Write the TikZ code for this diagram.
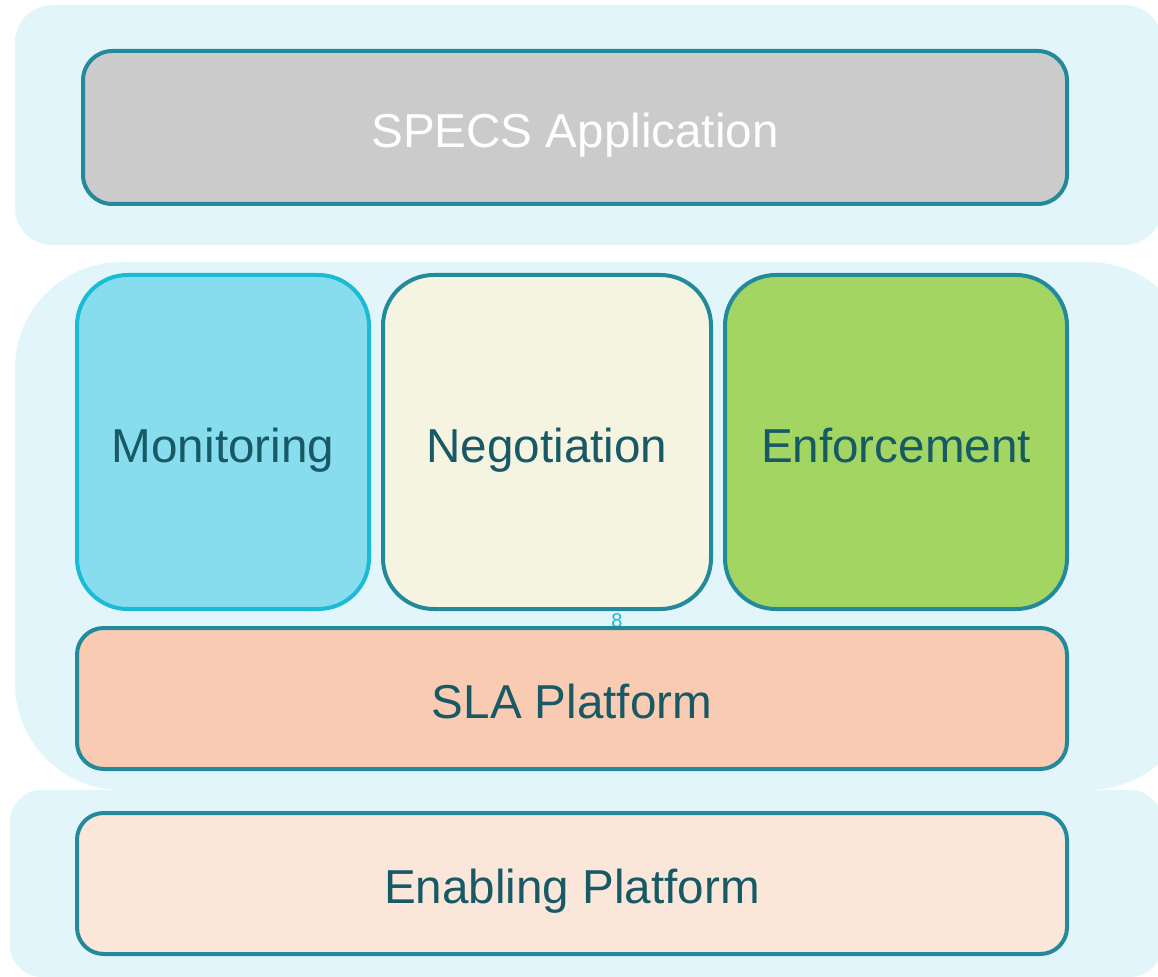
\documentclass[tikz,border=0pt]{standalone}
\usepackage{fontspec}
\setmainfont{Liberation Sans}
\usetikzlibrary{positioning}

\definecolor{panelbg}{HTML}{E1F5FA}
\definecolor{tealline}{HTML}{238A9C}
\definecolor{cyanline}{HTML}{1BBAD6}
\definecolor{labeltext}{HTML}{175965}
\definecolor{appfill}{HTML}{CBCBCB}
\definecolor{monfill}{HTML}{87DDED}
\definecolor{negfill}{HTML}{F5F4E0}
\definecolor{enffill}{HTML}{A3D563}
\definecolor{slafill}{HTML}{F8CBB2}
\definecolor{enbfill}{HTML}{FBE6DA}

\begin{document}
\begin{tikzpicture}[
  x=0.75pt, y=-0.75pt,
  layer/.style={fill=panelbg, draw=none},
  block/.style={rectangle, draw=tealline, line width=3pt, inner sep=0pt,
    text=labeltext, font=\fontsize{35.7}{40}\selectfont, align=center,
    text height=30pt, text depth=0pt},
  wide/.style={block, rounded corners=20pt, minimum width=742.5pt, minimum height=105.75pt},
  tall/.style={block, rounded corners=38pt, minimum height=250.5pt}
]
\useasboundingbox (0,0) rectangle (1158,977);
\begin{scope}
\clip (0,0) rectangle (1158,977);
% background layers
\fill[layer, rounded corners=28pt] (15,5) rectangle (1162,245);
\fill[layer, rounded corners=80pt] (15,262) rectangle (1195,790);
\fill[layer, rounded corners=24pt] (10,790) rectangle (1162,977);
\end{scope}

\node[block, fill=appfill, text=white, rounded corners=22pt,
  minimum width=738pt, minimum height=114.75pt] (app) at (575,127.5) {SPECS Application};

\node[tall, fill=monfill, draw=cyanline, minimum width=219pt] (mon) at (223,442) {Monitoring};
\node[tall, fill=negfill, minimum width=246pt] (neg) at (547,442) {Negotiation};
\node[tall, fill=enffill, minimum width=256.5pt] (enf) at (896,442) {Enforcement};

\node[text=cyanline, font=\fontsize{15}{15}\selectfont, inner sep=0pt] (num) at (617,621) {8};

\node[wide, fill=slafill] (sla) at (572,698.5) {SLA Platform};
\node[wide, fill=enbfill] (enb) at (572,883.5) {Enabling Platform};
\end{tikzpicture}
\end{document}
